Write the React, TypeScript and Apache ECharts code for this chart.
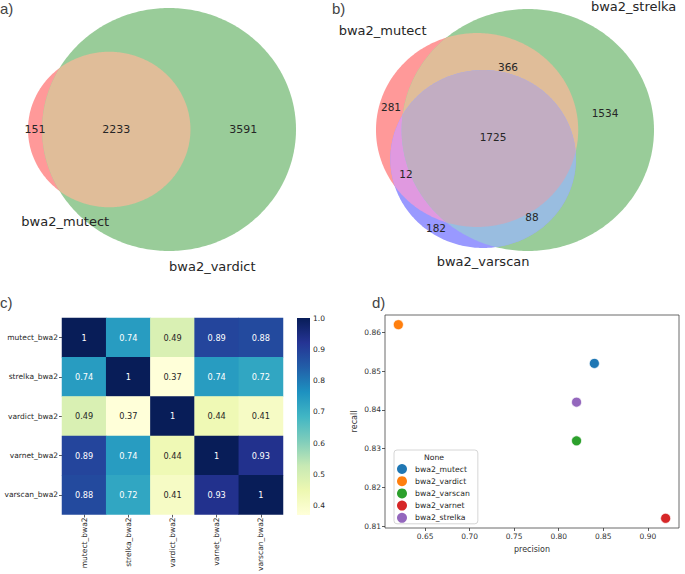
import React, { useEffect, useRef } from "react";
import * as echarts from "echarts";

// ---------- DATA ----------
// Panel a: two-set Venn (mutect vs vardict)
const vennASetNames = ["bwa2_mutect", "bwa2_vardict"];
// region counts: [A only, B only, A∩B]
const vennARegionCounts = [151, 3591, 2233];

// Panel b: three-set Venn (mutect, strelka, varscan)
const vennBSetNames = ["bwa2_mutect", "bwa2_strelka", "bwa2_varscan"];
// region counts: [A only, B only, A∩B only, C only, A∩C only, B∩C only, A∩B∩C]
const vennBRegionCounts = [281, 1534, 366, 182, 12, 88, 1725];

// Panel c: correlation heatmap
const heatNames = ["mutect_bwa2", "strelka_bwa2", "vardict_bwa2", "varnet_bwa2", "varscan_bwa2"];
const heatValues = [
  [1, 0.74, 0.49, 0.89, 0.88],
  [0.74, 1, 0.37, 0.74, 0.72],
  [0.49, 0.37, 1, 0.44, 0.41],
  [0.89, 0.74, 0.44, 1, 0.93],
  [0.88, 0.72, 0.41, 0.93, 1],
];
const colorbarTicks = [0.4, 0.5, 0.6, 0.7, 0.8, 0.9, 1.0];

// Panel d: precision / recall scatter
const tools = ["bwa2_mutect", "bwa2_vardict", "bwa2_varscan", "bwa2_varnet", "bwa2_strelka"];
const precision = [0.84, 0.62, 0.82, 0.92, 0.82];
const recall = [0.852, 0.862, 0.832, 0.812, 0.842];
const precisionTicks = [0.65, 0.7, 0.75, 0.8, 0.85, 0.9];
const recallTicks = [0.81, 0.82, 0.83, 0.84, 0.85, 0.86];

// ---------- STYLES / LAYOUT ----------
const FONT = "DejaVu Sans";
const TEXT = "#262626";
const toolColors = ["#1f77b4", "#ff7f0e", "#2ca02c", "#d62728", "#9467bd"];
const YLGNBU = ["#ffffd9", "#edf8b1", "#c7e9b4", "#7fcdbb", "#41b6c4", "#1d91c0", "#225ea8", "#253494", "#081d58"];
const vennAColors = ["#ff9999", "#99cc99", "#e0bd99"];
const vennBColors = ["#ff9999", "#99cc99", "#9999ff", "#e0bd99", "#e099e0", "#99bde0", "#c2adc2"];
const vennAFrame = { left: 28, top: 8, width: 268, height: 243 };
const vennBFrame = { left: 376, top: 9, width: 278, height: 242 };
// annotation anchors (pixels) for the 3-set Venn region counts, same order as vennBRegionCounts
const vennBCountAnchors = [
  [391, 107], [605, 113], [508, 67], [436, 228], [406, 174], [532, 217], [493, 137],
];

// ---------- GEOMETRY ----------
type Circle = { x: number; y: number; r: number };

function lensArea(r1: number, r2: number, d: number): number {
  if (d >= r1 + r2) return 0;
  if (d <= Math.abs(r1 - r2)) return Math.PI * Math.min(r1, r2) ** 2;
  const a1 = Math.acos((d * d + r1 * r1 - r2 * r2) / (2 * d * r1));
  const a2 = Math.acos((d * d + r2 * r2 - r1 * r1) / (2 * d * r2));
  const k = 0.5 * Math.sqrt((-d + r1 + r2) * (d + r1 - r2) * (d - r1 + r2) * (d + r1 + r2));
  return r1 * r1 * a1 + r2 * r2 * a2 - k;
}
function solveDistance(r1: number, r2: number, area: number): number {
  let lo = Math.abs(r1 - r2);
  let hi = r1 + r2;
  for (let i = 0; i < 80; i++) {
    const m = (lo + hi) / 2;
    if (lensArea(r1, r2, m) > area) lo = m;
    else hi = m;
  }
  return (lo + hi) / 2;
}

function layoutVenn2(): Circle[] {
  const [a, b, ab] = vennARegionCounts;
  const rA = Math.sqrt((a + ab) / Math.PI);
  const rB = Math.sqrt((b + ab) / Math.PI);
  const d = solveDistance(rA, rB, ab);
  return [
    { x: 0, y: 0, r: rA },
    { x: d, y: 0, r: rB },
  ];
}
function layoutVenn3(): Circle[] {
  const [A, B, AB, C, AC, BC, ABC] = vennBRegionCounts;
  const rA = Math.sqrt((A + AB + AC + ABC) / Math.PI);
  const rB = Math.sqrt((B + AB + BC + ABC) / Math.PI);
  const rC = Math.sqrt((C + AC + BC + ABC) / Math.PI);
  const dAB = solveDistance(rA, rB, AB + ABC);
  const dAC = solveDistance(rA, rC, AC + ABC);
  const dBC = solveDistance(rB, rC, BC + ABC);
  const cx = (dAB * dAB + dAC * dAC - dBC * dBC) / (2 * dAB);
  const cy = -Math.sqrt(Math.max(0, dAC * dAC - cx * cx));
  return [
    { x: 0, y: 0, r: rA },
    { x: dAB, y: 0, r: rB },
    { x: cx, y: cy, r: rC },
  ];
}

function bbox(circles: Circle[]) {
  return {
    xmin: Math.min(...circles.map((c) => c.x - c.r)),
    xmax: Math.max(...circles.map((c) => c.x + c.r)),
    ymin: Math.min(...circles.map((c) => c.y - c.r)),
    ymax: Math.max(...circles.map((c) => c.y + c.r)),
  };
}

function regionPolygon(circles: Circle[], set: number[], api: any): number[][] {
  const N = 360;
  const pts: number[][] = [];
  for (const i of set) {
    const c = circles[i];
    for (let k = 0; k < N; k++) {
      const t = (2 * Math.PI * k) / N;
      const x = c.x + c.r * Math.cos(t);
      const y = c.y + c.r * Math.sin(t);
      let inside = true;
      for (const j of set) {
        if (j === i) continue;
        const o = circles[j];
        if (Math.hypot(x - o.x, y - o.y) > o.r * (1 + 1e-9)) {
          inside = false;
          break;
        }
      }
      if (inside) pts.push(api.coord([x, y]));
    }
  }
  const mx = pts.reduce((s, p) => s + p[0], 0) / pts.length;
  const my = pts.reduce((s, p) => s + p[1], 0) / pts.length;
  pts.sort((p, q) => Math.atan2(p[1] - my, p[0] - mx) - Math.atan2(q[1] - my, q[0] - mx));
  return pts;
}

// ---------- COLOR HELPERS ----------
function hexToRgb(h: string): number[] {
  const v = parseInt(h.slice(1), 16);
  return [(v >> 16) & 255, (v >> 8) & 255, v & 255];
}
function cmapRgb(t: number): number[] {
  const n = YLGNBU.length - 1;
  const s = Math.min(n, Math.max(0, t * n));
  const i = Math.min(n - 1, Math.floor(s));
  const f = s - i;
  const a = hexToRgb(YLGNBU[i]);
  const b = hexToRgb(YLGNBU[i + 1]);
  return a.map((v, k) => v + (b[k] - v) * f);
}
function luminance(rgb: number[]): number {
  const lin = rgb.map((c) => {
    const v = c / 255;
    return v <= 0.03928 ? v / 12.92 : ((v + 0.055) / 1.055) ** 2.4;
  });
  return 0.2126 * lin[0] + 0.7152 * lin[1] + 0.0722 * lin[2];
}

// ---------- OPTION ----------
function buildOption() {
  const cA = layoutVenn2();
  const cB = layoutVenn3();
  const bA = bbox(cA);
  const bB = bbox(cB);

  const regionsA = [[0], [1], [0, 1]];
  const regionsB = [[0], [1], [2], [0, 1], [0, 2], [1, 2], [0, 1, 2]];

  // Venn a labels (positions derived from the circle geometry)
  const [A2, B2] = cA;
  const labelsA = [
    { x: (A2.x - A2.r + (B2.x - B2.r)) / 2, y: 0, text: String(vennARegionCounts[0]), align: "center", va: "middle", dy: 0, size: 11 },
    { x: (A2.x + A2.r + (B2.x + B2.r)) / 2, y: 0, text: String(vennARegionCounts[1]), align: "center", va: "middle", dy: 0, size: 11 },
    { x: (B2.x - B2.r + (A2.x + A2.r)) / 2, y: 0, text: String(vennARegionCounts[2]), align: "center", va: "middle", dy: 0, size: 11 },
    { x: A2.x, y: A2.y - A2.r, text: vennASetNames[0], align: "right", va: "top", dy: 8, size: 13 },
    { x: B2.x, y: B2.y - B2.r, text: vennASetNames[1], align: "left", va: "top", dy: 9, size: 13 },
  ];
  const [A3, B3, C3] = cB;
  const labelsB = [
    { x: A3.x - A3.r / 2, y: A3.y + A3.r, text: vennBSetNames[0], align: "right", va: "bottom", dy: 4, size: 13 },
    { x: B3.x + B3.r / 2, y: B3.y + B3.r, text: vennBSetNames[1], align: "left", va: "bottom", dy: 4, size: 13 },
    { x: C3.x, y: C3.y - C3.r, text: vennBSetNames[2], align: "center", va: "top", dy: 7, size: 13 },
  ];

  const textRender = (labels: any[]) => (params: any, api: any) => {
    const L = labels[params.dataIndex];
    const p = api.coord([L.x, L.y]);
    return {
      type: "text",
      x: p[0],
      y: p[1] + L.dy,
      silent: true,
      style: { text: L.text, align: L.align, verticalAlign: L.va, fontSize: L.size, fontFamily: FONT, fill: TEXT },
    };
  };

  const allHeat = heatValues.flat();
  const vmin = Math.min(...allHeat);
  const vmax = Math.max(...allHeat);

  const heatData = heatValues.flatMap((row, i) =>
    row.map((v, j) => {
      const lum = luminance(cmapRgb((v - vmin) / (vmax - vmin)));
      return { value: [j, i, v], label: { color: lum > 0.408 ? TEXT : "#ffffff" } };
    })
  );

  const pad = (arr: number[]) => {
    const lo = Math.min(...arr);
    const hi = Math.max(...arr);
    const m = (hi - lo) * 0.05;
    return [lo - m, hi + m];
  };
  const [xmin, xmax] = pad(precision);
  const [ymin, ymax] = pad(recall);

  const tickStyle = { show: true, length: 3, lineStyle: { color: "#333", width: 0.8 } };

  const series: any[] = [
    {
      type: "custom",
      xAxisIndex: 0,
      yAxisIndex: 0,
      silent: true,
      data: regionsA.map((s) => [cA[s[0]].x, cA[s[0]].y]),
      renderItem: (params: any, api: any) => ({
        type: "polygon",
        shape: { points: regionPolygon(cA, regionsA[params.dataIndex], api) },
        style: { fill: vennAColors[params.dataIndex], stroke: "none" },
      }),
    },
    {
      type: "custom",
      xAxisIndex: 0,
      yAxisIndex: 0,
      silent: true,
      data: labelsA.map((l) => [l.x, l.y]),
      renderItem: textRender(labelsA),
    },
    {
      type: "custom",
      xAxisIndex: 1,
      yAxisIndex: 1,
      silent: true,
      data: regionsB.map((s) => [cB[s[0]].x, cB[s[0]].y]),
      renderItem: (params: any, api: any) => ({
        type: "polygon",
        shape: { points: regionPolygon(cB, regionsB[params.dataIndex], api) },
        style: { fill: vennBColors[params.dataIndex], stroke: "none" },
      }),
    },
    {
      type: "custom",
      xAxisIndex: 1,
      yAxisIndex: 1,
      silent: true,
      data: labelsB.map((l) => [l.x, l.y]),
      renderItem: textRender(labelsB),
    },
    {
      type: "heatmap",
      xAxisIndex: 2,
      yAxisIndex: 2,
      data: heatData,
      label: {
        show: true,
        fontSize: 8.2,
        fontFamily: FONT,
        formatter: (p: any) => String(p.value[2]),
      },
      itemStyle: { borderWidth: 0 },
      emphasis: { disabled: true },
    },
    {
      type: "custom",
      xAxisIndex: 3,
      yAxisIndex: 3,
      silent: true,
      data: [[0, vmin]],
      renderItem: (_p: any, api: any) => {
        const p0 = api.coord([0, vmin]);
        const p1 = api.coord([1, vmax]);
        return {
          type: "rect",
          shape: { x: p0[0], y: p1[1], width: p1[0] - p0[0], height: p0[1] - p1[1] },
          style: {
            fill: new echarts.graphic.LinearGradient(
              0, 1, 0, 0,
              YLGNBU.map((c, i) => ({ offset: i / (YLGNBU.length - 1), color: c }))
            ),
          },
        };
      },
    },
    ...tools.map((t, i) => ({
      type: "scatter",
      name: t,
      xAxisIndex: 4,
      yAxisIndex: 4,
      data: [[precision[i], recall[i]]],
      symbolSize: 10,
      itemStyle: { color: toolColors[i], borderColor: "#ffffff", borderWidth: 0.7, opacity: 1 },
      emphasis: { disabled: true },
    })),
  ];

  const graphic: any[] = [
    { type: "text", x: 0, y: 1, style: { text: "a)", fontSize: 15, fontFamily: "Liberation Sans", fill: "#444" } },
    { type: "text", x: 332, y: 1, style: { text: "b)", fontSize: 15, fontFamily: "Liberation Sans", fill: "#444" } },
    { type: "text", x: 0, y: 295, style: { text: "c)", fontSize: 15, fontFamily: "Liberation Sans", fill: "#444" } },
    { type: "text", x: 372, y: 295, style: { text: "d)", fontSize: 15, fontFamily: "Liberation Sans", fill: "#444" } },
    ...vennBRegionCounts.map((n, i) => ({
      type: "text",
      x: vennBCountAnchors[i][0],
      y: vennBCountAnchors[i][1],
      z: 100,
      style: { text: String(n), align: "center", verticalAlign: "middle", fontSize: 10.5, fontFamily: FONT, fill: TEXT },
    })),
    {
      type: "text",
      x: 434,
      y: 457,
      z: 100,
      style: { text: "None", align: "center", verticalAlign: "middle", fontSize: 7.7, fontFamily: FONT, fill: TEXT },
    },
  ];

  return {
    animation: false,
    backgroundColor: "#ffffff",
    textStyle: { fontFamily: FONT },
    grid: [
      { ...vennAFrame },
      { ...vennBFrame },
      { left: 62, top: 318, width: 221, height: 197 },
      { left: 297, top: 318, width: 13, height: 197 },
      { left: 385, top: 315, width: 294, height: 213, show: true, borderColor: "#444", borderWidth: 0.8, backgroundColor: "transparent" },
    ],
    xAxis: [
      { type: "value", gridIndex: 0, min: bA.xmin, max: bA.xmax, show: false },
      { type: "value", gridIndex: 1, min: bB.xmin, max: bB.xmax, show: false },
      {
        type: "category",
        gridIndex: 2,
        data: heatNames,
        axisLine: { show: false },
        axisTick: { ...tickStyle, alignWithLabel: true },
        axisLabel: { rotate: 90, fontSize: 7.5, color: TEXT, margin: 3, fontFamily: FONT },
        splitLine: { show: false },
      },
      { type: "value", gridIndex: 3, min: 0, max: 1, show: false },
      {
        type: "value",
        gridIndex: 4,
        min: xmin,
        max: xmax,
        axisLine: { show: false },
        axisTick: { ...tickStyle, customValues: precisionTicks },
        axisLabel: { customValues: precisionTicks, formatter: (v: number) => v.toFixed(2), fontSize: 7.5, color: "#333", margin: 4 },
        splitLine: { show: false },
        name: "precision",
        nameLocation: "middle",
        nameGap: 17,
        nameTextStyle: { fontSize: 8, color: "#333" },
      },
    ],
    yAxis: [
      { type: "value", gridIndex: 0, min: bA.ymin, max: bA.ymax, show: false },
      { type: "value", gridIndex: 1, min: bB.ymin, max: bB.ymax, show: false },
      {
        type: "category",
        gridIndex: 2,
        data: heatNames,
        inverse: true,
        axisLine: { show: false },
        axisTick: { ...tickStyle, alignWithLabel: true },
        axisLabel: { fontSize: 7.5, color: TEXT, margin: 4, fontFamily: FONT },
        splitLine: { show: false },
      },
      {
        type: "value",
        gridIndex: 3,
        min: vmin,
        max: vmax,
        position: "right",
        axisLine: { show: false },
        axisTick: { ...tickStyle, customValues: colorbarTicks },
        axisLabel: { customValues: colorbarTicks, formatter: (v: number) => v.toFixed(1), fontSize: 7.5, color: TEXT, margin: 3 },
        splitLine: { show: false },
      },
      {
        type: "value",
        gridIndex: 4,
        min: ymin,
        max: ymax,
        axisLine: { show: false },
        axisTick: { ...tickStyle, customValues: recallTicks },
        axisLabel: { customValues: recallTicks, formatter: (v: number) => v.toFixed(2), fontSize: 7.5, color: "#333", margin: 4 },
        splitLine: { show: false },
        name: "recall",
        nameLocation: "middle",
        nameGap: 27,
        nameTextStyle: { fontSize: 8, color: "#333" },
      },
    ],
    visualMap: {
      type: "continuous",
      show: false,
      min: vmin,
      max: vmax,
      dimension: 2,
      seriesIndex: 4,
      inRange: { color: YLGNBU },
    },
    legend: {
      data: tools,
      left: 394,
      top: 450,
      orient: "vertical",
      icon: "circle",
      itemWidth: 10,
      itemHeight: 10,
      itemGap: 2.2,
      padding: [14, 8, 1, 3],
      borderColor: "#cccccc",
      borderWidth: 0.8,
      borderRadius: 3,
      backgroundColor: "rgba(255,255,255,0.8)",
      selectedMode: false,
      itemStyle: { borderWidth: 0 },
      textStyle: { fontSize: 7.7, color: TEXT, fontFamily: FONT, lineHeight: 10, padding: [0, 0, 0, 3] },
    },
    graphic,
    series,
  };
}

export default function App() {
  const ref = useRef<HTMLDivElement>(null);
  useEffect(() => {
    const chart = echarts.init(ref.current!, null, { renderer: "svg" });
    chart.setOption(buildOption() as any);
    return () => chart.dispose();
  }, []);
  return (
    <div
      ref={ref}
      style={{ position: "fixed", left: 0, top: 0, width: 685, height: 574, background: "#ffffff" }}
    />
  );
}
